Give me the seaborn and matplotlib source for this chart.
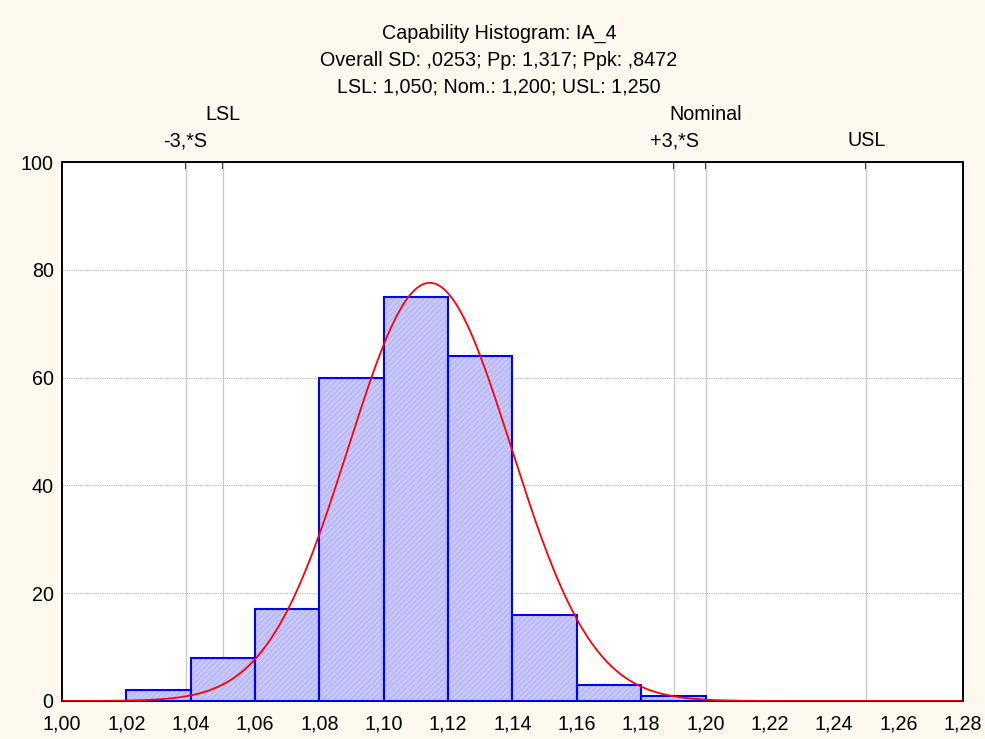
import numpy as np
import pandas as pd
import matplotlib
matplotlib.use("Agg")
import matplotlib.pyplot as plt
import matplotlib.ticker as mticker
import seaborn as sns

# ---- data ----
bin_edges = [1.02, 1.04, 1.06, 1.08, 1.10, 1.12, 1.14, 1.16, 1.18, 1.20]
bin_counts = [2, 8, 17, 60, 75, 64, 16, 3, 1]
mean_val = 1.1143
sd_val = 0.0253
lsl, nominal, usl = 1.050, 1.200, 1.250
title_lines = ["Capability Histogram: IA_4",
               "Overall SD: ,0253; Pp: 1,317; Ppk: ,8472",
               "LSL: 1,050; Nom.: 1,200; USL: 1,250"]
x_ticks = [1.00, 1.02, 1.04, 1.06, 1.08, 1.10, 1.12, 1.14, 1.16, 1.18, 1.20, 1.22, 1.24, 1.26, 1.28]
y_ticks = [0, 20, 40, 60, 80, 100]

sns.set_style("white")
plt.rcParams['font.family'] = ['Liberation Sans', 'DejaVu Sans']
plt.rcParams['hatch.linewidth'] = 0.5
plt.rcParams['text.color'] = 'black'
plt.rcParams['xtick.color'] = 'black'
plt.rcParams['ytick.color'] = 'black'

centers = [(a + b) / 2 for a, b in zip(bin_edges[:-1], bin_edges[1:])]
df = pd.DataFrame({"x": centers, "n": bin_counts})

fig = plt.figure(figsize=(9.85, 7.39), dpi=100, facecolor="#fdf9ee")
ax = fig.add_axes([62/985, 38/739, 901/985, 539/739])
ax.set_facecolor("white")

# filled hatched bars
sns.histplot(data=df, x="x", weights="n", bins=bin_edges, ax=ax,
             stat="count", facecolor="#c8c8fb", edgecolor="#a4a4f2",
             linewidth=0, alpha=1.0, hatch="//////", zorder=2)
# outlines
sns.histplot(data=df, x="x", weights="n", bins=bin_edges, ax=ax,
             stat="count", fill=False, color="#0000ff", linewidth=1.5,
             zorder=3)

# fitted normal curve
n_total = sum(bin_counts)
bw = bin_edges[1] - bin_edges[0]
xs = np.linspace(1.00, 1.28, 600)
ys = n_total * bw / (sd_val * np.sqrt(2 * np.pi)) * np.exp(-0.5 * ((xs - mean_val) / sd_val) ** 2)
sns.lineplot(x=xs, y=ys, ax=ax, color="#ff0000", linewidth=1.3, zorder=4)

# horizontal grid
for y in y_ticks[1:-1]:
    ax.axhline(y, color="#b8b8b8", linestyle=(0, (1, 1)), linewidth=0.8, zorder=1)

# spec lines
m3 = mean_val - 3 * sd_val
p3 = mean_val + 3 * sd_val
spec_pos = [m3, lsl, p3, nominal, usl]
for xv in spec_pos:
    ax.axvline(xv, color="#c8c8c8", linewidth=0.9, zorder=1)

ax.set_xlim(1.00, 1.28)
ax.set_ylim(0, 100)
ax.set_xticks(x_ticks)
ax.set_yticks(y_ticks)
ax.xaxis.set_major_formatter(mticker.FuncFormatter(lambda v, p: f"{v:.2f}".replace(".", ",")))
ax.set_xlabel("")
ax.set_ylabel("")
ax.tick_params(axis="both", direction="in", length=5, width=1.2, labelsize=14.2, colors="black")
ax.tick_params(axis="x", pad=10)
ax.tick_params(axis="y", pad=6)
for s in ax.spines.values():
    s.set_visible(True)
    s.set_color("black")
    s.set_linewidth(1.4)

# top ticks at spec positions
sec = ax.secondary_xaxis("top")
sec.set_xticks(spec_pos)
sec.set_xticklabels([])
sec.tick_params(direction="in", length=5, width=1.2)
sec.spines["top"].set_visible(False)

# spec labels
trans = ax.get_xaxis_transform()
fs = 14.2
ax.text(lsl, 1.0 + 47/539, "LSL", transform=trans, ha="center", va="center", fontsize=fs)
ax.text(m3, 1.0 + 21/539, "-3,*S", transform=trans, ha="center", va="center", fontsize=fs)
ax.text(nominal, 1.0 + 47/539, "Nominal", transform=trans, ha="center", va="center", fontsize=fs)
ax.text(p3, 1.0 + 21/539, "+3,*S", transform=trans, ha="center", va="center", fontsize=fs)
ax.text(usl, 1.0 + 21/539, "USL", transform=trans, ha="center", va="center", fontsize=fs)

# title lines
for i, t in enumerate(title_lines):
    fig.text(499/985, 1 - (33 + 27 * i) / 739, t, ha="center", va="center", fontsize=14.2)

fig.savefig("out.png", dpi=100, facecolor=fig.get_facecolor())
